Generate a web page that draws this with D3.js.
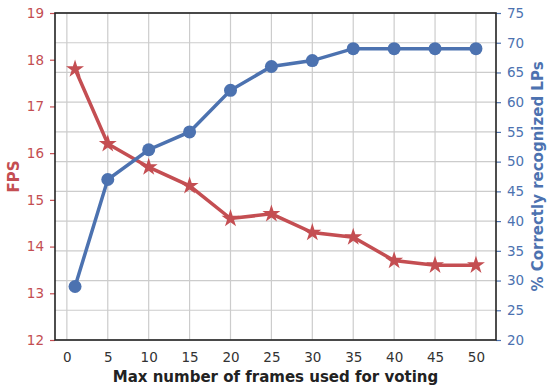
<!DOCTYPE html>
<html>
<head>
<meta charset="utf-8">
<script src="https://cdn.jsdelivr.net/npm/d3@7"></script>
<style>
  body { margin: 0; background: #fff; }
  text { font-family: "DejaVu Sans", sans-serif; }
</style>
</head>
<body>
<div id="chart"></div>
<script>
// data
var frames = [1, 5, 10, 15, 20, 25, 30, 35, 40, 45, 50];
var fps = [17.8, 16.2, 15.7, 15.3, 14.6, 14.7, 14.3, 14.2, 13.7, 13.6, 13.6];
var recognized = [29, 47, 52, 55, 62, 66, 67, 69, 69, 69, 69];
var xTicks = [0, 5, 10, 15, 20, 25, 30, 35, 40, 45, 50];
var fpsTicks = [12, 13, 14, 15, 16, 17, 18, 19];
var recTicks = [20, 25, 30, 35, 40, 45, 50, 55, 60, 65, 70, 75];

var red = "#c44e52", blue = "#4c72b0";

var margin = {top: 13, right: 54, bottom: 51, left: 55},
  width = 550 - margin.left - margin.right,
  height = 391 - margin.top - margin.bottom;

var svg = d3.select("#chart")
  .append("svg")
    .attr("width", 550)
    .attr("height", 391)
  .append("g")
    .attr("transform", "translate(" + margin.left + "," + margin.top + ")");

var x = d3.scaleLinear().domain([-1.45, 52.45]).range([0, width]);
var yL = d3.scaleLinear().domain([12, 19]).range([height, 0]);
var yR = d3.scaleLinear().domain([20, 75]).range([height, 0]);

// grid: vertical from x ticks, horizontal from the right axis
svg.append("g").selectAll("line").data(xTicks).enter().append("line")
  .attr("x1", function(d) { return x(d); }).attr("x2", function(d) { return x(d); })
  .attr("y1", 0).attr("y2", height)
  .style("stroke", "#cccccc").style("stroke-width", 1.2);
svg.append("g").selectAll("line").data(recTicks).enter().append("line")
  .attr("y1", function(d) { return yR(d); }).attr("y2", function(d) { return yR(d); })
  .attr("x1", 0).attr("x2", width)
  .style("stroke", "#cccccc").style("stroke-width", 1.2);

// axes
var xAxis = svg.append("g")
  .attr("transform", "translate(0," + height + ")")
  .call(d3.axisBottom(x).tickValues(xTicks).tickSize(0).tickPadding(12));
xAxis.selectAll("text").style("fill", "#333").style("font-size", "13.5px");

var leftAxis = svg.append("g")
  .call(d3.axisLeft(yL).tickValues(fpsTicks).tickFormat(d3.format("d")).tickSize(5).tickPadding(6));
leftAxis.selectAll("text").style("fill", red).style("font-size", "13.5px");
leftAxis.selectAll("line").style("stroke", red).style("stroke-width", 1.2);

var rightAxis = svg.append("g")
  .attr("transform", "translate(" + width + ",0)")
  .call(d3.axisRight(yR).tickValues(recTicks).tickSize(5).tickPadding(6));
rightAxis.selectAll("text").style("fill", blue).style("font-size", "13.5px");
rightAxis.selectAll("line").style("stroke", blue).style("stroke-width", 1.2);

[xAxis, leftAxis, rightAxis].forEach(function(a) { a.select(".domain").remove(); });

// frame
svg.append("rect")
  .attr("width", width).attr("height", height)
  .style("fill", "none").style("stroke", "#222").style("stroke-width", 1.6);

// FPS line with stars
var lineL = d3.line()
  .x(function(d, i) { return x(frames[i]); })
  .y(function(d) { return yL(d); });
svg.append("path").datum(fps)
  .attr("d", lineL)
  .style("fill", "none").style("stroke", red).style("stroke-width", 3.5);
svg.selectAll("star").data(fps).enter().append("path")
  .attr("transform", function(d, i) { return "translate(" + x(frames[i]) + "," + yL(d) + ")"; })
  .attr("d", d3.symbol().type(d3.symbolStar).size(100))
  .style("fill", red);

// recognized line with circles
var lineR = d3.line()
  .x(function(d, i) { return x(frames[i]); })
  .y(function(d) { return yR(d); });
svg.append("path").datum(recognized)
  .attr("d", lineR)
  .style("fill", "none").style("stroke", blue).style("stroke-width", 3.5);
svg.selectAll("dot").data(recognized).enter().append("circle")
  .attr("cx", function(d, i) { return x(frames[i]); })
  .attr("cy", function(d) { return yR(d); })
  .attr("r", 6.5)
  .style("fill", blue);

// axis titles
svg.append("text")
  .attr("x", width / 2).attr("y", height + 42)
  .attr("text-anchor", "middle")
  .style("font-size", "15px").style("font-weight", "bold").style("fill", "#222")
  .text("Max number of frames used for voting");

svg.append("text")
  .attr("transform", "translate(" + (-36) + "," + (height / 2) + ") rotate(-90)")
  .attr("text-anchor", "middle")
  .style("font-size", "15px").style("font-weight", "bold").style("fill", red)
  .text("FPS");

svg.append("text")
  .attr("transform", "translate(" + (width + 47) + "," + (height / 2) + ") rotate(-90)")
  .attr("text-anchor", "middle")
  .style("font-size", "15px").style("font-weight", "bold").style("fill", blue)
  .text("% Correctly recognized LPs");
</script>
</body>
</html>
